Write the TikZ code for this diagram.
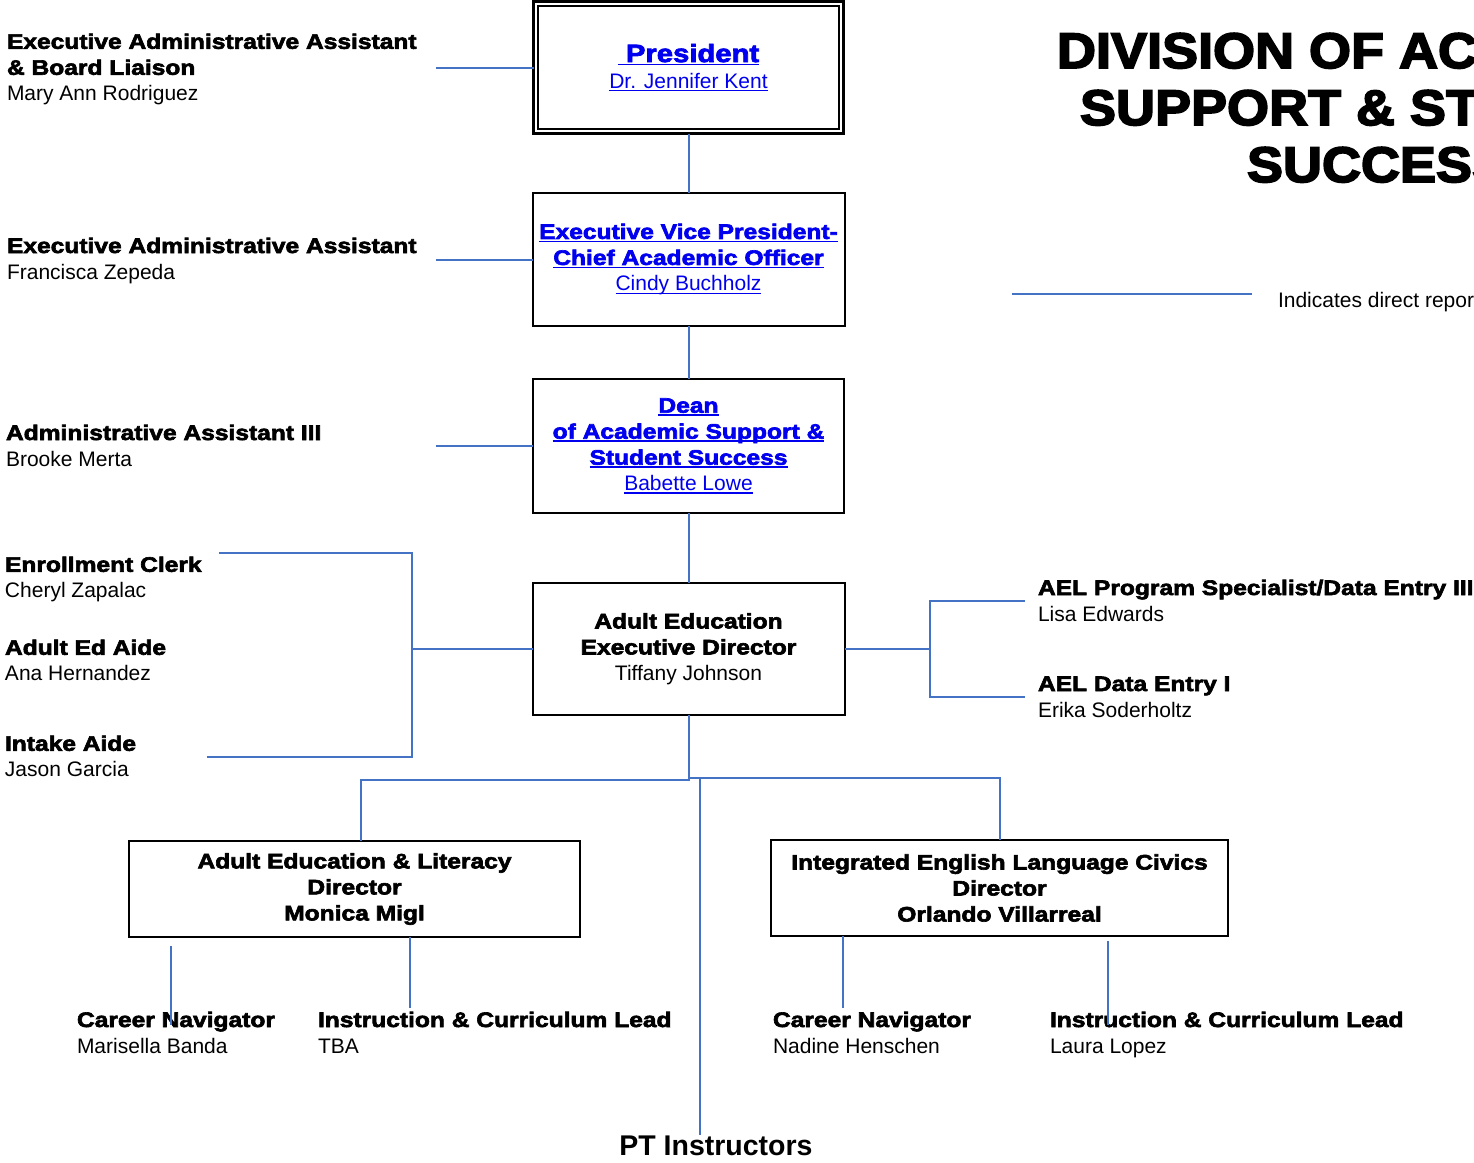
\documentclass[tikz,border=0pt]{standalone}
\usepackage{fontspec}
\setmainfont{Liberation Sans}
\newfontfamily\heavy[FakeStretch=1.17,FakeBold=3]{Liberation Sans Bold}
\newfontfamily\titlef[FakeStretch=1.08,FakeBold=3.5]{Liberation Sans Bold}
\newfontfamily\ptf{Liberation Sans Bold}
\usetikzlibrary{fit,backgrounds}
\definecolor{lineblue}{RGB}{68,114,196}
\definecolor{linkblue}{RGB}{0,0,238}
\newsavebox\ulbx
\newcommand\ulx[1]{\sbox\ulbx{#1}\rlap{\rule[-3pt]{\wd\ulbx}{1.3pt}}\usebox\ulbx}
\newcommand\hv[1]{{\heavy #1}}
\newcommand\fst{\rule{0pt}{16.8pt}}
\begin{document}
\begin{tikzpicture}[x=1pt,y=-1pt,
  every node/.style={inner sep=0pt, outer sep=0pt},
  wire/.style={draw=lineblue, line width=2pt},
  box/.style={draw=black, line width=2pt, align=center, font=\fontsize{21}{26}\selectfont},
  linkbox/.style={box, text=linkblue},
  lbl/.style={anchor=north west, align=left, font=\fontsize{21}{26}\selectfont},
]
\useasboundingbox (0,0) rectangle (1474,1162);
\begin{scope}[on background layer]
  \fill[white] (0,0) rectangle (1474,1162);
\end{scope}

% ---- title and legend (clipped at the page edge, as in the reference) ----
\begin{scope}
  \clip (0,0) rectangle (1474,1162);
  \node[anchor=base west, font=\titlef\fontsize{50}{57}\selectfont] (title1) at (1057,68) {DIVISION OF ACADEMIC};
  \node[anchor=base west, font=\titlef\fontsize{50}{57}\selectfont] (title2) at (1080,125) {SUPPORT \& STUDENT};
  \node[anchor=base west, font=\titlef\fontsize{50}{57}\selectfont] (title3) at (1247,182) {SUCCESS};
  \node[anchor=base west, font=\fontsize{21}{26}\selectfont] (legtext) at (1278,307) {Indicates direct reports};
\end{scope}
\coordinate (lg1) at (1012,294);
\coordinate (lg2) at (1252,294);

% ---- boxes ----
\node[linkbox, line width=1.5pt, minimum width=301pt, minimum height=123pt] (pres) at (688.5,67.5)
  {{\fontsize{25}{26}\selectfont\heavy\ulx{~President}}\\\ulx{Dr. Jennifer Kent}};
\node[fit=(pres), inner sep=4.5pt, draw=black, line width=3pt] (presframe) {};
\node[linkbox, minimum width=312pt, minimum height=133pt] (evp) at (688.5,259.5)
  {\hv{\ulx{Executive Vice President-}}\\\hv{\ulx{Chief Academic Officer}}\\\ulx{Cindy Buchholz}};
\node[linkbox, minimum width=311pt, minimum height=134pt] (dean) at (688.5,446)
  {\hv{\ulx{Dean}}\\\hv{\ulx{of Academic Support \&}}\\\hv{\ulx{Student Success}}\\\ulx{Babette Lowe}};
\node[box, minimum width=312pt, minimum height=132pt] (ae) at (688.5,649)
  {\hv{Adult Education}\\\hv{Executive Director}\\Tiffany Johnson};
\node[box, minimum width=451pt, minimum height=96pt] (ael) at (354.5,889)
  {\hv{Adult Education \& Literacy}\\\hv{Director}\\\hv{Monica Migl}};
\node[box, minimum width=457pt, minimum height=96pt] (ielc) at (999.5,888)
  {\hv{Integrated English Language Civics}\\\hv{Director}\\\hv{Orlando Villarreal}};

% ---- labels ----
\node[lbl] (eaa) at (7,32) {\fst\hv{Executive Administrative Assistant}\\\hv{\& Board Liaison}\\Mary Ann Rodriguez};
\node[lbl] (eab) at (7,236.2) {\fst\hv{Executive Administrative Assistant}\\Francisca Zepeda};
\node[lbl] (aa3) at (6,423.2) {\fst\hv{Administrative Assistant III}\\Brooke Merta};
\node[lbl] (clerk) at (5,555) {\fst\hv{Enrollment Clerk}\\Cheryl Zapalac};
\node[lbl] (aide) at (5,638) {\fst\hv{Adult Ed Aide}\\Ana Hernandez};
\node[lbl] (intake) at (5,734) {\fst\hv{Intake Aide}\\Jason Garcia};
\node[lbl] (spec) at (1038,578.2) {\fst\hv{AEL Program Specialist/Data Entry III}\\Lisa Edwards};
\node[lbl] (dataent) at (1038,674.2) {\fst\hv{AEL Data Entry I}\\Erika Soderholtz};
\node[lbl] (cn1) at (77,1010.2) {\fst\hv{Career Navigator}\\Marisella Banda};
\node[lbl] (icl1) at (318,1010.2) {\fst\hv{Instruction \& Curriculum Lead}\\TBA};
\node[lbl] (cn2) at (773,1010.2) {\fst\hv{Career Navigator}\\Nadine Henschen};
\node[lbl] (icl2) at (1050,1010.2) {\fst\hv{Instruction \& Curriculum Lead}\\Laura Lopez};
\node[anchor=base, font=\ptf\fontsize{28.5}{30}\selectfont] (pt) at (716,1155) {PT Instructors};

% ---- coordinates for free ends ----
\coordinate (a1) at (436,67.5);
\coordinate (a2) at (436,259.5);
\coordinate (a3) at (436,446);
\coordinate (lb) at (412,649);
\coordinate (d1) at (219,553);
\coordinate (d3) at (207,757);
\coordinate (rb) at (930,649);
\coordinate (r1) at (1025,601);
\coordinate (r3) at (1025,697);
\coordinate (jl) at (361,780);
\coordinate (jr) at (688.5,778);
\coordinate (jpt) at (700,778);
\coordinate (b1t) at (171,946);
\coordinate (b1b) at (171,1025);
\coordinate (b2) at (410,1008);
\coordinate (b3) at (843,1008);
\coordinate (b4t) at (1108,941);
\coordinate (b4b) at (1108,1025);

% ---- connectors ----
\draw[wire] (lg1) -- (lg2);
\draw[wire] (presframe.west) -- (a1);
\draw[wire] (presframe.south) -- (evp.north);
\draw[wire] (evp.west) -- (a2);
\draw[wire] (evp.south) -- (dean.north);
\draw[wire] (dean.west) -- (a3);
\draw[wire] (dean.south) -- (ae.north);
\draw[wire] (ae.west) -- (lb);
\draw[wire] (d1) -| (lb) |- (d3);
\draw[wire] (ae.east) -- (rb);
\draw[wire] (r1) -| (rb) |- (r3);
\draw[wire] (ae.south) |- (jl) -- (jl |- ael.north);
\draw[wire] (jr) -| (ielc.north);
\draw[wire] (jpt) -- (jpt |- pt.north);
\draw[wire] (b1t) -- (b1b);
\draw[wire] (ael.south -| b2) -- (b2);
\draw[wire] (ielc.south -| b3) -- (b3);
\draw[wire] (b4t) -- (b4b);
\end{tikzpicture}
\end{document}
